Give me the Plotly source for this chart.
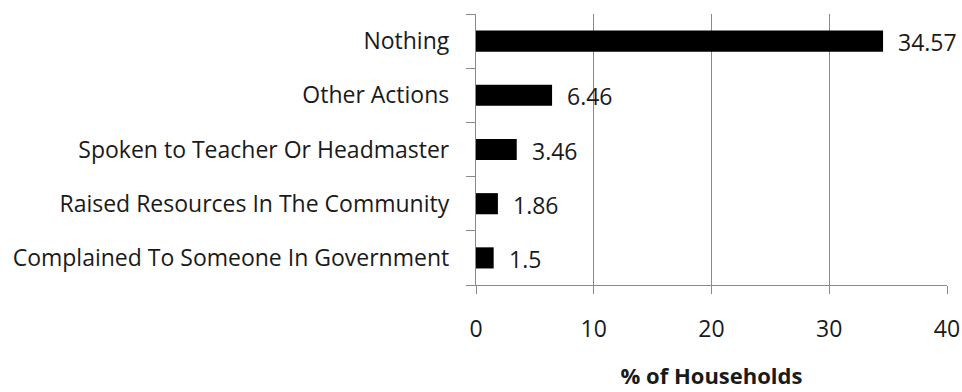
import plotly.graph_objects as go

categories = [
    "Nothing",
    "Other Actions",
    "Spoken to Teacher Or Headmaster",
    "Raised Resources In The Community",
    "Complained To Someone In Government",
]
values = [34.57, 6.46, 3.46, 1.86, 1.5]
value_labels = ["34.57", "6.46", "3.46", "1.86", "1.5"]
x_ticks = [0, 10, 20, 30, 40]

FONT = "Open Sans"
SIZE = 23
TEXT = "#1a1a1a"
GRID = "#8a8a8a"

fig = go.Figure(
    go.Bar(
        x=values,
        y=categories,
        orientation="h",
        marker=dict(color="#000000", line=dict(width=0)),
        width=0.39,
        hoverinfo="skip",
    )
)

# value labels just past the end of each bar
for cat, v, lab in zip(categories, values, value_labels):
    fig.add_annotation(
        x=v, y=cat, text=lab, showarrow=False,
        xanchor="left", xshift=13, yshift=-1,
        font=dict(family=FONT, size=SIZE, color=TEXT),
    )

fig.update_layout(
    width=962, height=392,
    margin=dict(l=476, r=15, t=14, b=107, autoexpand=False),
    plot_bgcolor="white", paper_bgcolor="white",
    showlegend=False,
    font=dict(family=FONT, size=SIZE, color=TEXT),
    xaxis=dict(
        range=[0, 40], tickvals=x_ticks, ticktext=[str(t) for t in x_ticks],
        showgrid=True, gridcolor=GRID, gridwidth=1.3,
        zeroline=False, showline=True, linecolor=GRID, linewidth=1.3,
        ticks="outside", ticklen=8, tickcolor=GRID, tickwidth=1.3,
        ticklabelstandoff=15, automargin=False,
        title=dict(text="<b>% of Households</b>", standoff=25,
                   font=dict(family=FONT, size=22, color=TEXT)),
        fixedrange=True,
    ),
    yaxis=dict(
        categoryorder="array", categoryarray=categories[::-1],
        showgrid=False, zeroline=False,
        showline=True, linecolor=GRID, linewidth=1.3,
        ticks="outside", tickson="boundaries", ticklen=9,
        tickcolor=GRID, tickwidth=1.3,
        ticklabelstandoff=21, automargin=False,
        fixedrange=True,
    ),
)

fig.write_html("out.html")
